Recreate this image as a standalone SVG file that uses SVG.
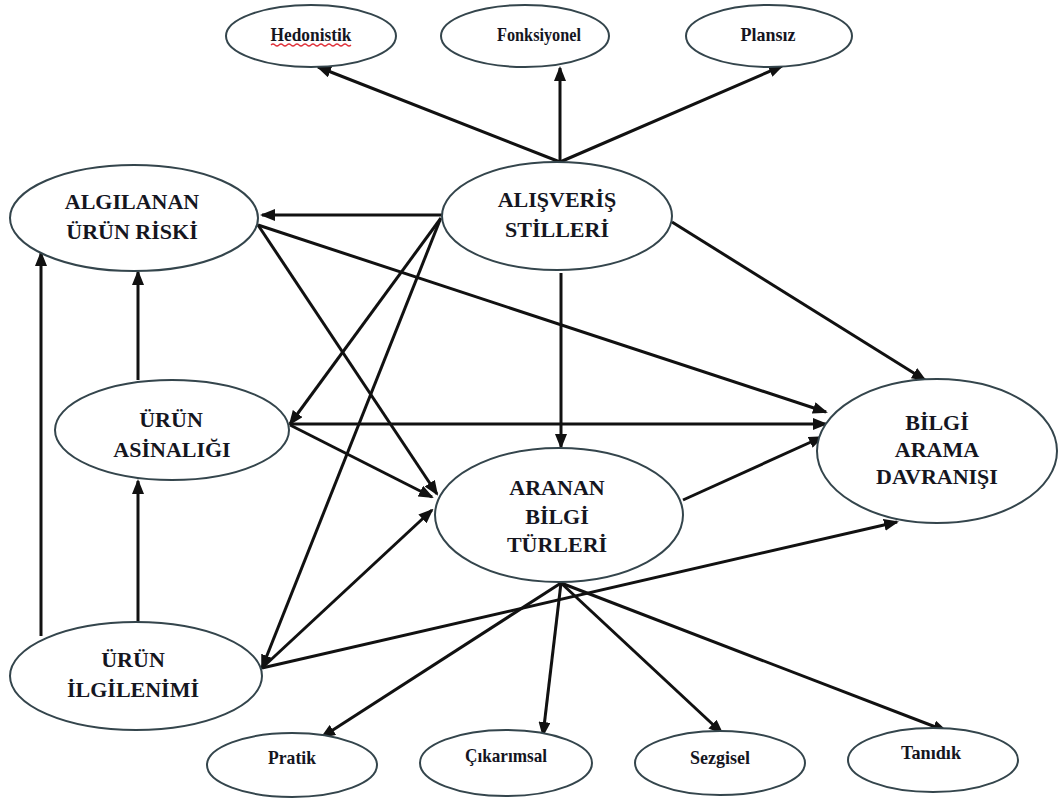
<svg xmlns="http://www.w3.org/2000/svg" width="1059" height="800" viewBox="0 0 1059 800">
  <style>
    .node ellipse { fill: #ffffff; stroke: #34454c; stroke-width: 2; }
    .big { font-family: "Liberation Serif", "Times New Roman", serif; font-weight: bold; font-size: 22px; fill: #15161f; text-anchor: middle; }
    .small { font-family: "Liberation Serif", "Times New Roman", serif; font-weight: bold; font-size: 19px; fill: #15161f; text-anchor: middle; }
    .edges line { stroke: #111111; stroke-width: 3; marker-end: url(#arrow); }
  </style>
  <defs>
    <marker id="arrow" viewBox="0 0 15 12" markerWidth="15" markerHeight="12" refX="13" refY="6" orient="auto" markerUnits="userSpaceOnUse">
      <path d="M0,0 L15,6 L0,12 z" fill="#111111"/>
    </marker>
  </defs>
  <rect width="1059" height="800" fill="#ffffff"/>

  <!-- connectors -->
  <g id="edges" class="edges">
    <!-- shopping styles to the three style types -->
    <line x1="560" y1="162" x2="318" y2="67"/>
    <line x1="560" y1="162" x2="560" y2="68"/>
    <line x1="560" y1="162" x2="782" y2="66"/>
    <!-- shopping styles outward -->
    <line x1="443" y1="215" x2="262" y2="215"/>
    <line x1="441" y1="218" x2="290" y2="424"/>
    <line x1="440" y1="220" x2="262" y2="668"/>
    <line x1="561" y1="273" x2="561" y2="447"/>
    <line x1="672" y1="222" x2="925" y2="380"/>
    <!-- perceived product risk -->
    <line x1="258" y1="225" x2="826" y2="412"/>
    <line x1="258" y1="225" x2="437" y2="494"/>
    <!-- product familiarity -->
    <line x1="290" y1="424" x2="826" y2="424"/>
    <line x1="290" y1="425" x2="432" y2="497"/>
    <line x1="138" y1="380" x2="138" y2="272"/>
    <!-- searched information types to search behaviour -->
    <line x1="683" y1="500" x2="822" y2="437"/>
    <!-- product involvement -->
    <line x1="138" y1="622" x2="138" y2="481"/>
    <line x1="41" y1="636" x2="41" y2="253"/>
    <line x1="262" y1="668" x2="432" y2="510"/>
    <line x1="262" y1="668" x2="897" y2="522"/>
    <!-- searched information types to the four kinds -->
    <line x1="561" y1="583" x2="322" y2="737"/>
    <line x1="561" y1="583" x2="543" y2="735"/>
    <line x1="561" y1="583" x2="722" y2="733"/>
    <line x1="561" y1="583" x2="946" y2="731"/>
  </g>

  <!-- top row -->
  <g id="hedonistik" class="node">
    <ellipse cx="311" cy="36" rx="85" ry="31"/>
    <text class="small" x="311" y="41" textLength="81" lengthAdjust="spacingAndGlyphs">Hedonistik</text>
    <path d="M271,45 q2,-2 4,0 t4,0 t4,0 t4,0 t4,0 t4,0 t4,0 t4,0 t4,0 t4,0 t4,0 t4,0 t4,0 t4,0 t4,0 t4,0 t4,0 t4,0 t4,0 t4,0" fill="none" stroke="#e0303a" stroke-width="1.2"/>
  </g>
  <g id="fonksiyonel" class="node">
    <ellipse cx="525" cy="36" rx="84" ry="31"/>
    <text class="small" x="539" y="41" textLength="84" lengthAdjust="spacingAndGlyphs">Fonksiyonel</text>
  </g>
  <g id="plansiz" class="node">
    <ellipse cx="769" cy="36" rx="83" ry="31"/>
    <text class="small" x="768" y="41" textLength="55" lengthAdjust="spacingAndGlyphs">Plansız</text>
  </g>

  <!-- main constructs -->
  <g id="algilanan-urun-riski" class="node">
    <ellipse cx="134" cy="218" rx="124" ry="53"/>
    <text class="big" x="132" y="209">ALGILANAN</text>
    <text class="big" x="132" y="239">ÜRÜN RİSKİ</text>
  </g>
  <g id="alisveris-stilleri" class="node">
    <ellipse cx="557" cy="216" rx="115" ry="54"/>
    <text class="big" x="557" y="207">ALIŞVERİŞ</text>
    <text class="big" x="557" y="237">STİLLERİ</text>
  </g>
  <g id="urun-asinaligi" class="node">
    <ellipse cx="172" cy="430" rx="117" ry="50"/>
    <text class="big" x="171" y="427">ÜRÜN</text>
    <text class="big" x="172" y="457">ASİNALIĞI</text>
  </g>
  <g id="aranan-bilgi-turleri" class="node">
    <ellipse cx="559" cy="515" rx="124" ry="67"/>
    <text class="big" x="557" y="495">ARANAN</text>
    <text class="big" x="557" y="524">BİLGİ</text>
    <text class="big" x="557" y="552">TÜRLERİ</text>
  </g>
  <g id="bilgi-arama-davranisi" class="node">
    <ellipse cx="937" cy="451" rx="120" ry="72"/>
    <text class="big" x="937" y="430">BİLGİ</text>
    <text class="big" x="937" y="457">ARAMA</text>
    <text class="big" x="937" y="484">DAVRANIŞI</text>
  </g>
  <g id="urun-ilgilenimi" class="node">
    <ellipse cx="136" cy="676" rx="126" ry="54"/>
    <text class="big" x="133" y="667">ÜRÜN</text>
    <text class="big" x="133" y="697">İLGİLENİMİ</text>
  </g>

  <!-- bottom row -->
  <g id="pratik" class="node">
    <ellipse cx="292" cy="765" rx="85" ry="32"/>
    <text class="small" x="292" y="764" textLength="48" lengthAdjust="spacingAndGlyphs">Pratik</text>
  </g>
  <g id="cikarimsal" class="node">
    <ellipse cx="506" cy="763" rx="86" ry="33"/>
    <text class="small" x="506" y="762" textLength="82" lengthAdjust="spacingAndGlyphs">Çıkarımsal</text>
  </g>
  <g id="sezgisel" class="node">
    <ellipse cx="720" cy="763" rx="85" ry="32"/>
    <text class="small" x="720" y="764" textLength="60" lengthAdjust="spacingAndGlyphs">Sezgisel</text>
  </g>
  <g id="tanidik" class="node">
    <ellipse cx="933" cy="760" rx="85" ry="32"/>
    <text class="small" x="931" y="759" textLength="60" lengthAdjust="spacingAndGlyphs">Tanıdık</text>
  </g>
</svg>
